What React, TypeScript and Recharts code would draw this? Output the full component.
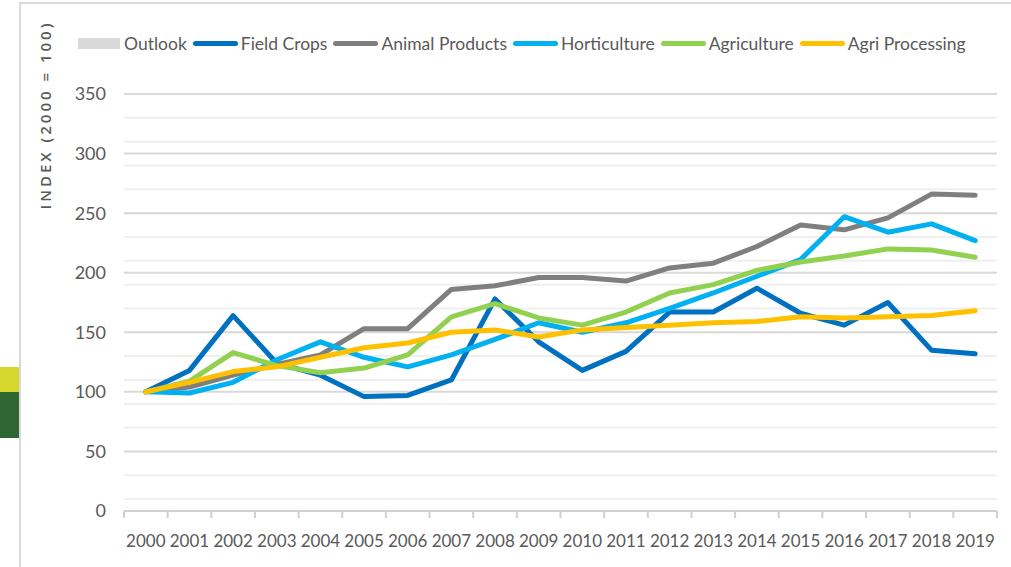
import React from 'react';
import { LineChart, Line, XAxis, YAxis, CartesianGrid } from 'recharts';

const years = ['2000', '2001', '2002', '2003', '2004', '2005', '2006', '2007', '2008', '2009',
  '2010', '2011', '2012', '2013', '2014', '2015', '2016', '2017', '2018', '2019'];

const fieldCrops = [100, 118, 164, 124, 114, 96, 97, 110, 178, 142, 118, 134, 167, 167, 187, 166, 156, 175, 135, 132];
const animalProducts = [100, 104, 114, 123, 131, 153, 153, 186, 189, 196, 196, 193, 204, 208, 222, 240, 236, 246, 266, 265];
const horticulture = [100, 99, 108, 127, 142, 129, 121, 131, 144, 158, 150, 158, 170, 183, 197, 211, 247, 234, 241, 227];
const agriculture = [100, 109, 133, 122, 116, 120, 131, 163, 174, 162, 156, 167, 183, 190, 202, 209, 214, 220, 219, 213];
const agriProcessing = [100, 108, 117, 121, 129, 137, 141, 150, 152, 146, 152, 154, 156, 158, 159, 163, 162, 163, 164, 168];

const yTicks = [0, 50, 100, 150, 200, 250, 300, 350];
const minorTicks = Array.from({ length: 36 }, (_, i) => i * 10);

const series = [
  { key: 'fieldCrops', name: 'Field Crops', color: '#0070c0' },
  { key: 'animalProducts', name: 'Animal Products', color: '#7f7f7f' },
  { key: 'horticulture', name: 'Horticulture', color: '#00b0f0' },
  { key: 'agriculture', name: 'Agriculture', color: '#92d050' },
  { key: 'agriProcessing', name: 'Agri Processing', color: '#ffc000' },
];

const data = years.map((year, i) => ({
  year,
  fieldCrops: fieldCrops[i],
  animalProducts: animalProducts[i],
  horticulture: horticulture[i],
  agriculture: agriculture[i],
  agriProcessing: agriProcessing[i],
}));

const W = 1011;
const H = 567;
const PLOT_LEFT = 124;
const PLOT_RIGHT = 997;
const HALF_BAND = (PLOT_RIGHT - PLOT_LEFT) / years.length / 2;
const FONT = 'Lato, "Liberation Sans", sans-serif';
const TEXT = '#595959';

const XTick = ({ x, y, payload, index }: any) => (
  <g>
    <line x1={x - HALF_BAND} x2={x - HALF_BAND} y1={y} y2={y + 7} stroke="#d0d0d0" strokeWidth={2} />
    {index === years.length - 1 && (
      <line x1={x + HALF_BAND} x2={x + HALF_BAND} y1={y} y2={y + 7} stroke="#d0d0d0" strokeWidth={2} />
    )}
    <text x={x} y={y + 36} textAnchor="middle" fill={TEXT} fontSize={17} fontFamily={FONT}>
      {payload.value}
    </text>
  </g>
);

export default function App() {
  return (
    <div style={{ position: 'fixed', left: 0, top: 0, width: W, height: H, background: '#fff', overflow: 'hidden' }}>
      {/* frame + side blocks */}
      <div style={{ position: 'absolute', left: 20, top: 2, width: W - 20, height: 2, background: '#d9d9d9' }} />
      <div style={{ position: 'absolute', left: 19, top: 2, width: 2, height: H, background: '#d9d9d9' }} />
      <div style={{ position: 'absolute', left: 0, top: 367, width: 19, height: 25, background: '#d6d82e' }} />
      <div style={{ position: 'absolute', left: 0, top: 392, width: 19, height: 46, background: '#2f6631' }} />

      <div
        style={{
          position: 'absolute', left: 45, top: 115, transform: 'translate(-50%, -50%) rotate(-90deg)',
          whiteSpace: 'nowrap', fontFamily: '"Open Sans", sans-serif', fontWeight: 600, fontSize: 15,
          letterSpacing: 3, color: TEXT,
        }}
      >
        INDEX (2000 = 100)
      </div>

      <div
        style={{
          position: 'absolute', left: 78, top: 32, height: 22, display: 'flex', alignItems: 'center',
          fontFamily: FONT, fontSize: 17.5, color: TEXT, whiteSpace: 'nowrap',
        }}
      >
        <span style={{ width: 42, height: 11, background: '#d9d9d9', marginRight: 4 }} />
        <span style={{ marginRight: 6 }}>Outlook</span>
        {series.map((s) => (
          <React.Fragment key={s.key}>
            <span style={{ width: 45, height: 5, borderRadius: 3, background: s.color, marginRight: 3 }} />
            <span style={{ marginRight: 6 }}>{s.name}</span>
          </React.Fragment>
        ))}
      </div>

      <div style={{ position: 'absolute', left: 0, top: 0 }}>
        <LineChart width={W} height={H} data={data} margin={{ top: 94, right: W - PLOT_RIGHT, bottom: 16, left: 0 }}>
          <CartesianGrid vertical={false} horizontalValues={minorTicks} stroke="#efefef" strokeWidth={2} />
          <CartesianGrid vertical={false} horizontalValues={yTicks} stroke="#d9d9d9" strokeWidth={2} />
          <XAxis
            dataKey="year"
            height={40}
            padding={{ left: HALF_BAND, right: HALF_BAND }}
            axisLine={{ stroke: '#d0d0d0', strokeWidth: 2 }}
            tickLine={false}
            tickSize={0}
            tickMargin={0}
            interval={0}
            tick={<XTick />}
          />
          <YAxis
            width={PLOT_LEFT}
            domain={[0, 350]}
            ticks={yTicks}
            axisLine={false}
            tickLine={false}
            tickSize={0}
            tickMargin={18}
            tick={{ fill: TEXT, fontSize: 18, fontFamily: FONT }}
          />
          {series.map((s) => (
            <Line
              key={s.key}
              type="linear"
              dataKey={s.key}
              name={s.name}
              stroke={s.color}
              strokeWidth={5}
              strokeLinecap="round"
              strokeLinejoin="round"
              dot={false}
              isAnimationActive={false}
            />
          ))}
        </LineChart>
      </div>
    </div>
  );
}
